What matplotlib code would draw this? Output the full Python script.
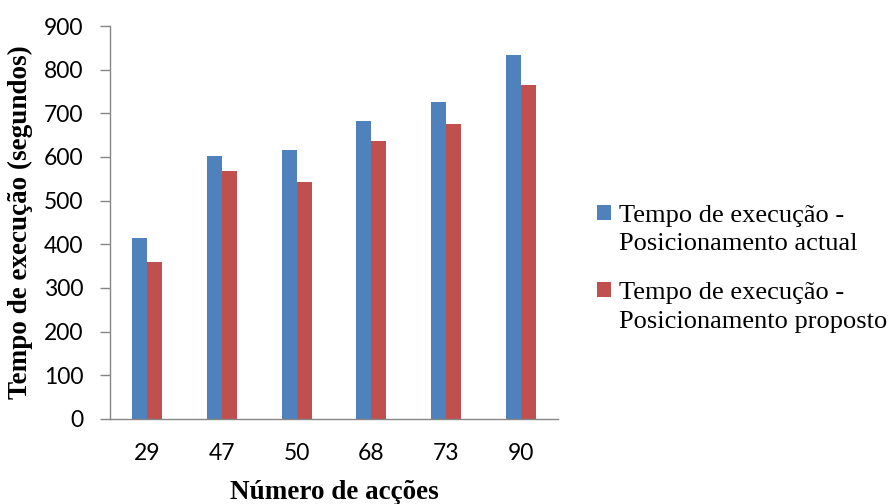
import matplotlib.pyplot as plt
import numpy as np

acoes = ["29", "47", "50", "68", "73", "90"]
tempo_actual = [414, 603, 615, 683, 726, 833]
tempo_proposto = [360, 569, 542, 637, 676, 766]
nomes = ["Tempo de execução -\nPosicionamento actual",
         "Tempo de execução -\nPosicionamento proposto"]

azul = "#4F81BD"
vermelho = "#C0504D"
cinza = "#868686"

fig = plt.figure(figsize=(8.93, 5.04), dpi=100)
ax = fig.add_axes([0.1232, 0.1687, 0.5017, 0.7797])

x = np.arange(len(acoes))
w = 0.2
ax.bar(x - w / 2, tempo_actual, w, color=azul, label=nomes[0])
ax.bar(x + w / 2, tempo_proposto, w, color=vermelho, label=nomes[1])

ax.set_xlim(-0.5, len(acoes) - 0.5)
ax.set_ylim(0, 900)
ax.set_yticks(range(0, 901, 100))
ax.set_xticks(x)
ax.set_xticklabels(acoes)

for s in ["top", "right"]:
    ax.spines[s].set_visible(False)
for s in ["left", "bottom"]:
    ax.spines[s].set_color(cinza)
    ax.spines[s].set_linewidth(1.0)

ax.tick_params(axis="y", direction="out", length=7, width=1.0, color=cinza,
               pad=12, labelsize=16.5)
ax.tick_params(axis="x", length=0, pad=17, labelsize=16.5)
for lbl in ax.get_xticklabels() + ax.get_yticklabels():
    lbl.set_fontfamily("Lato")

serif = "Liberation Serif"
ax.set_ylabel("Tempo de execução (segundos)", fontfamily=serif,
              fontweight="bold", fontsize=19.5)
ax.yaxis.set_label_coords(-0.172, 0.5)
ax.set_xlabel("Número de acções", fontfamily=serif, fontweight="bold",
              fontsize=19.5)
ax.xaxis.set_label_coords(0.5, -0.155)

leg = ax.legend(loc="upper left", bbox_to_anchor=(0.669, 0.594),
                bbox_transform=fig.transFigure, frameon=False,
                prop={"family": serif, "size": 19},
                handlelength=0.5, handleheight=0.5, handletextpad=0.3,
                labelspacing=1.0, borderpad=0, borderaxespad=0)
for t in leg.get_texts():
    t.set_linespacing(1.4)
# put the square next to the first line of each entry
for col in leg._legend_handle_box.get_children():
    for item in col.get_children():
        item.align = "top"

fig.savefig("out.png", dpi=100)
